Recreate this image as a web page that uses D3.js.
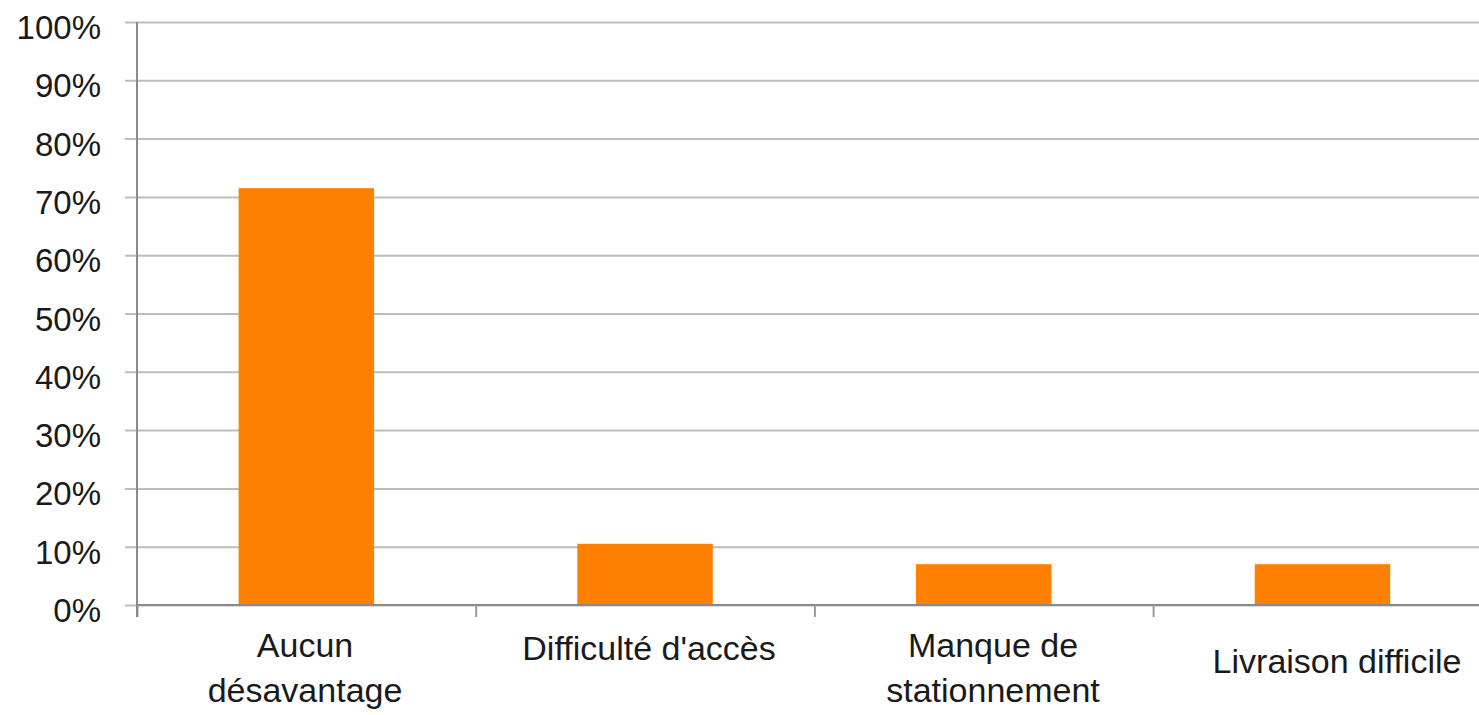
<!DOCTYPE html>
<html>
<head>
<meta charset="utf-8">
<script src="https://cdn.jsdelivr.net/npm/d3@7"></script>
<style>
  html, body { margin: 0; padding: 0; background: #fff; }
  svg { display: block; }
  text { font-family: "Liberation Sans", Arial, sans-serif; fill: #1a1a1a; }
</style>
</head>
<body>
<div id="chart"></div>
<script>
// données
var categories = ["Aucun désavantage", "Difficulté d'accès", "Manque de stationnement", "Livraison difficile"];
var labelLines = [["Aucun", "désavantage"], ["Difficulté d'accès"], ["Manque de", "stationnement"], ["Livraison difficile"]];
var values = [0.715, 0.105, 0.07, 0.07];
var yTicks = [0, 0.1, 0.2, 0.3, 0.4, 0.5, 0.6, 0.7, 0.8, 0.9, 1];

var W = 1479, H = 715;
var plotLeft = 137, plotTop = 22, plotBottom = 605;
var step = 338.7;
var plotRight = plotLeft + step * categories.length; // le graphique est coupé à droite
var labelShift = [0, 3, 0, 16];

var svg = d3.select("#chart").append("svg")
    .attr("width", W)
    .attr("height", H);

var y = d3.scaleLinear().domain([0, 1]).range([plotBottom, plotTop]);
var x = d3.scaleBand()
    .domain(categories)
    .range([plotLeft, plotRight])
    .paddingInner(0.6)
    .paddingOuter(0.3);
var xEdges = d3.scaleLinear().domain([0, categories.length]).range([plotLeft, plotRight]);
// les libellés sont un peu plus espacés que les barres dans l'original
var xLabel = d3.scalePoint().domain(categories).range([305, 1337]);

// axe Y + grille
var gy = svg.append("g")
    .attr("transform", "translate(" + plotLeft + ",0)")
    .call(d3.axisLeft(y).tickValues(yTicks).tickFormat(d3.format(".0%")).tickSize(12).tickPadding(24));
gy.select(".domain").remove();
gy.selectAll(".tick line")
    .attr("x1", W - plotLeft)
    .attr("stroke", "#bcbcbc")
    .attr("stroke-width", 2);
gy.selectAll(".tick text")
    .attr("dy", "0.5em")
    .style("font-size", "33px")
    .attr("fill", "#1a1a1a");

// barres
svg.append("g").selectAll("rect")
    .data(values)
    .enter().append("rect")
    .attr("x", function (d, i) { return x(categories[i]); })
    .attr("y", function (d) { return y(d); })
    .attr("width", x.bandwidth())
    .attr("height", function (d) { return y(0) - y(d); })
    .attr("fill", "#ff8000");

// axe X
var gx = svg.append("g")
    .attr("transform", "translate(0," + plotBottom + ")")
    .call(d3.axisBottom(xEdges).tickValues(d3.range(categories.length + 1)).tickFormat("").tickSize(12).tickSizeOuter(0));
gx.select(".domain")
    .attr("d", "M" + plotLeft + ",0H" + W)
    .attr("stroke", "#8a8a8a")
    .attr("stroke-width", 2);
gx.selectAll(".tick line")
    .attr("stroke", "#9a9a9a")
    .attr("stroke-width", 2);

// ligne verticale de l'axe Y
svg.append("line")
    .attr("x1", plotLeft).attr("x2", plotLeft)
    .attr("y1", plotTop).attr("y2", plotBottom + 12)
    .attr("stroke", "#8a8a8a")
    .attr("stroke-width", 2);

// libellés des catégories
var lab = svg.append("g").selectAll("text")
    .data(labelLines)
    .enter().append("text")
    .attr("text-anchor", "middle")
    .style("font-size", "34px")
    .attr("transform", function (d, i) {
        return "translate(" + xLabel(categories[i]) + "," + (657 + labelShift[i]) + ")";
    });
lab.selectAll("tspan")
    .data(function (d) { return d; })
    .enter().append("tspan")
    .attr("x", 0)
    .attr("y", function (d, j) { return j * 45; })
    .text(function (d) { return d; });
</script>
</body>
</html>
